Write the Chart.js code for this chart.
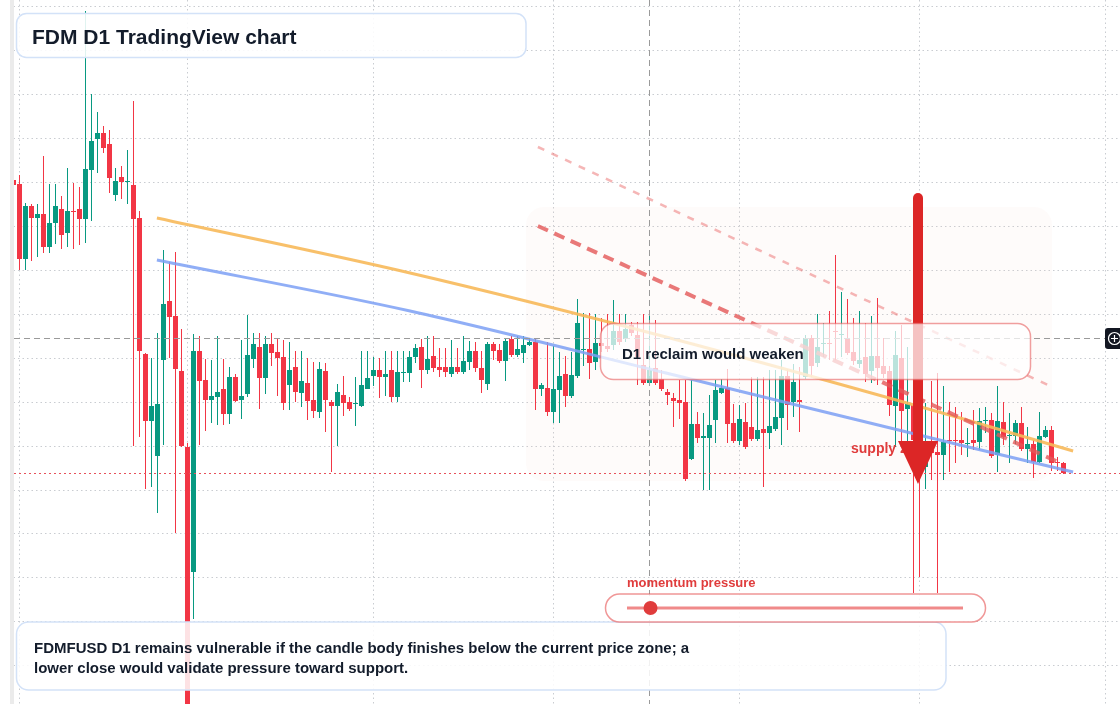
<!DOCTYPE html>
<html><head><meta charset="utf-8">
<script src="https://cdn.jsdelivr.net/npm/chart.js@4/dist/chart.umd.min.js"></script>
<style>html,body{margin:0;padding:0;background:#fff;overflow:hidden}canvas{display:block}</style>
</head><body>
<canvas id="c" width="1120" height="704"></canvas>
<script>
// FDM/USD daily candles. Day index 0 = 1 Feb; first candle is day -1.
// Prices are in units of 0.0001 USD.
const opens = [620,616,541,594,582,586,553,577,591,567,589,591,581,630,661,667,656,605,623,618,
615,582,446,379,344,440,499,484,429,353,228,449,420,400,403,411,386,423,400,406,
441,453,422,456,448,443,415,433,407,417,400,388,429,398,394,405,398,396,394,411,
424,430,423,430,403,427,427,443,453,430,444,433,433,426,433,428,438,449,432,416,
456,450,439,461,445,447,455,458,411,412,388,410,426,404,424,450,451,438,457,454,
455,469,461,475,465,435,417,432,421,408,402,400,398,341,376,362,362,380,407,412,
377,359,378,373,361,371,367,371,382,424,398,400,423,462,437,456,457,469,465,462,
448,436,443,429,444,434,429,394,442,391,395,360,333,350,348,345,360,360,360,356,
360,358,379,380,345,378,364,364,377,351,356,338,363,370,338,337];
const closes = [615,541,594,582,586,553,577,594,565,589,588,581,631,659,667,652,622,619,618,619,
581,449,379,394,396,496,483,431,354,80,449,419,400,404,408,386,423,399,404,445,
456,422,456,447,442,397,430,408,419,399,389,431,400,394,408,397,391,397,415,422,
430,423,426,403,428,428,443,452,430,441,432,430,428,433,428,439,449,432,420,456,
449,439,459,445,451,455,458,411,415,388,411,424,404,425,477,451,437,457,454,451,
469,458,471,467,443,417,430,417,411,405,399,397,321,376,362,364,375,410,412,376,
359,381,353,361,370,367,374,383,424,395,418,398,462,434,453,457,456,468,466,447,
439,440,426,444,432,426,395,445,389,396,360,345,350,347,345,358,359,359,357,357,
357,379,380,344,379,363,365,377,351,356,338,364,370,337,337,327];
const highs = [625,625,597,596,596,644,616,616,604,632,617,613,789,706,688,674,670,632,634,650,
699,589,447,442,467,550,538,548,471,357,466,464,441,440,464,441,433,426,460,485,
467,467,464,467,461,460,458,449,449,442,438,438,437,400,416,424,403,423,449,449,
443,442,449,449,449,449,449,456,461,464,464,452,452,460,452,464,459,458,449,458,
458,456,461,464,464,464,462,462,417,458,454,448,444,448,501,487,487,486,482,486,
500,486,486,478,478,486,486,480,430,411,407,420,420,420,388,387,405,420,421,431,
396,395,397,423,423,423,430,430,440,431,436,433,465,465,486,477,489,545,508,501,
482,489,477,484,502,462,434,469,475,453,420,375,397,419,427,414,398,393,388,372,
390,392,393,387,414,398,387,380,393,373,360,388,374,374,343,338];
const lows = [610,530,530,539,543,547,547,556,551,553,551,555,557,579,627,647,607,599,601,596,
354,363,311,313,287,355,442,267,353,70,181,355,369,377,375,375,376,398,381,403,
432,391,406,434,404,390,390,398,393,380,382,382,368,328,354,384,389,374,393,411,
414,402,404,398,398,418,418,437,412,426,428,423,423,423,426,426,430,428,407,410,
440,437,419,443,443,437,454,390,404,384,377,377,393,402,422,434,421,430,448,448,
450,455,458,464,415,415,414,415,409,395,373,381,319,340,357,310,310,357,406,357,
357,355,351,359,359,313,351,369,355,370,383,368,421,423,433,443,440,440,443,445,
435,432,418,417,415,422,384,353,353,353,207,223,311,320,207,320,328,337,345,343,
350,350,367,342,328,355,337,356,349,337,322,337,362,329,329,326];

// Month-start grid days (Feb .. Aug) and horizontal grid prices
const monthStartDays = [0, 28, 59, 89, 120, 150, 181];
const monthNames = ['Feb','Mar','Apr','May','Jun','Jul','Aug'];
const gridPrices = [793, 749, 705, 661, 617, 573, 530, 486, 442, 398, 354, 310, 267, 223, 179, 135];

// Overlay lines (day index, price)
const fastLineDays = [22.9, 65.1, 107.75, 156.75, 175.6];
const fastLineVals = [582, 527, 463, 382, 349];
const slowLineDays = [22.9, 65.1, 107.75, 156.75, 175.6];
const slowLineVals = [540, 489, 427, 355, 328];
const channelLowDays = [86.4, 173.1];
const channelLowVals = [574, 338];
const channelHighDays = [86.4, 172.1];
const channelHighVals = [653, 413];

// Annotations
const crossDay = 105, crossPrice = 462;
const arrowDay = 149.75, arrowTopPrice = 607, arrowHeadPrice = 359, arrowTipPrice = 316;
const titleText = 'FDM D1 TradingView chart';
const noteLines = ['FDMFUSD D1 remains vulnerable if the candle body finishes below the current price zone; a',
                   'lower close would validate pressure toward support.'];
const reclaimText = 'D1 reclaim would weaken';
const supplyText = 'supply zone';
const momentumText = 'momentum pressure';
const momentumLevel = 0.07;

const BULL = '#089981', BEAR = '#f23645';
const FONT = '"Liberation Sans", Arial, sans-serif';
const dayIndex = opens.map((_, k) => k - 1);
const candleColors = opens.map((o, k) => closes[k] >= o ? BULL : BEAR);
const lastPrice = closes[closes.length - 1];

function rrect(ctx, x, y, w, h, r) {
  ctx.beginPath();
  ctx.moveTo(x + r, y);
  ctx.arcTo(x + w, y, x + w, y + h, r);
  ctx.arcTo(x + w, y + h, x, y + h, r);
  ctx.arcTo(x, y + h, x, y, r);
  ctx.arcTo(x, y, x + w, y, r);
  ctx.closePath();
}

const overlay = {
  id: 'overlay',
  beforeDatasetsDraw(chart) {
    const ctx = chart.ctx;
    ctx.save();
    ctx.fillStyle = 'rgba(245,215,195,0.09)';
    rrect(ctx, 526, 207, 526, 274, 18);
    ctx.fill();
    ctx.restore();
  },
  afterDatasetsDraw(chart) {
    const ctx = chart.ctx, xs = chart.scales.x, ys = chart.scales.y;
    ctx.save();
    // last price line
    const ly = Math.floor(ys.getPixelForValue(lastPrice)) + 0.5;
    ctx.lineWidth = 1;
    ctx.strokeStyle = '#e8515a';
    ctx.setLineDash([2, 3]);
    ctx.beginPath(); ctx.moveTo(14, ly); ctx.lineTo(1120, ly); ctx.stroke();
    // crosshair
    ctx.strokeStyle = '#9a9a9a';
    ctx.setLineDash([6, 4]);
    const cx = Math.floor(xs.getPixelForValue(crossDay)) + 0.5;
    const cy = Math.floor(ys.getPixelForValue(crossPrice)) + 0.5;
    ctx.beginPath(); ctx.moveTo(cx, 0); ctx.lineTo(cx, 704); ctx.stroke();
    ctx.beginPath(); ctx.moveTo(14, cy); ctx.lineTo(1105, cy); ctx.stroke();
    ctx.setLineDash([]);

    // supply label
    ctx.fillStyle = '#e03c3c';
    ctx.font = 'bold 14px ' + FONT;
    ctx.fillText(supplyText, 851, 453);

    // arrow
    const ax = xs.getPixelForValue(arrowDay);
    const aTop = ys.getPixelForValue(arrowTopPrice);
    const aHead = ys.getPixelForValue(arrowHeadPrice);
    const aTip = ys.getPixelForValue(arrowTipPrice);
    ctx.strokeStyle = '#dc2626';
    ctx.lineWidth = 10;
    ctx.lineCap = 'round';
    ctx.beginPath(); ctx.moveTo(ax, aTop + 5); ctx.lineTo(ax, aHead + 4); ctx.stroke();
    ctx.lineCap = 'butt';
    ctx.fillStyle = '#dc2626';
    ctx.beginPath(); ctx.moveTo(ax - 20, aHead); ctx.lineTo(ax + 20, aHead); ctx.lineTo(ax, aTip); ctx.closePath(); ctx.fill();

    // reclaim box
    rrect(ctx, 600.5, 323.5, 430, 56, 13);
    ctx.fillStyle = 'rgba(255,255,255,0.72)'; ctx.fill();
    ctx.strokeStyle = 'rgba(230,95,95,0.6)'; ctx.lineWidth = 1.5; ctx.stroke();
    ctx.fillStyle = '#131c2b';
    ctx.font = 'bold 15px ' + FONT;
    ctx.fillText(reclaimText, 622, 359);

    // title box
    rrect(ctx, 16.5, 13.5, 509.5, 44, 10);
    ctx.fillStyle = 'rgba(255,255,255,0.88)'; ctx.fill();
    ctx.strokeStyle = '#d3e2f8'; ctx.lineWidth = 1.5; ctx.stroke();
    ctx.fillStyle = '#131c2b';
    ctx.font = 'bold 21px ' + FONT;
    ctx.fillText(titleText, 32, 43.5);

    // note box
    rrect(ctx, 16.5, 622, 929.5, 68, 12);
    ctx.fillStyle = 'rgba(255,255,255,0.86)'; ctx.fill();
    ctx.strokeStyle = '#d3e2f8'; ctx.lineWidth = 1.5; ctx.stroke();
    ctx.fillStyle = '#131c2b';
    ctx.font = 'bold 15px ' + FONT;
    ctx.fillText(noteLines[0], 34, 653);
    ctx.fillText(noteLines[1], 34, 673);

    // momentum pill
    ctx.fillStyle = '#e03c3c';
    ctx.font = 'bold 13px ' + FONT;
    ctx.fillText(momentumText, 627, 587);
    rrect(ctx, 605.5, 594, 380, 28, 14);
    ctx.fillStyle = 'rgba(255,255,255,0.85)'; ctx.fill();
    ctx.strokeStyle = 'rgba(232,95,95,0.65)'; ctx.lineWidth = 1.5; ctx.stroke();
    const t0 = 627, t1 = 963;
    ctx.strokeStyle = '#f08a8a'; ctx.lineWidth = 3;
    ctx.beginPath(); ctx.moveTo(t0, 608); ctx.lineTo(t1, 608); ctx.stroke();
    ctx.fillStyle = '#e03c3c';
    ctx.beginPath(); ctx.arc(t0 + (t1 - t0) * momentumLevel, 608, 7, 0, Math.PI * 2); ctx.fill();

    // left strip
    ctx.fillStyle = '#ffffff'; ctx.fillRect(0, 0, 10, 704);
    ctx.fillStyle = '#ebebeb'; ctx.fillRect(10, 0, 4, 704);

    // crosshair button
    rrect(ctx, 1105, 328, 20, 21, 3);
    ctx.fillStyle = '#131722'; ctx.fill();
    ctx.strokeStyle = '#ffffff'; ctx.lineWidth = 1.2;
    ctx.beginPath(); ctx.arc(1114.5, 338.5, 6, 0, Math.PI * 2); ctx.stroke();
    ctx.beginPath(); ctx.moveTo(1111, 338.5); ctx.lineTo(1118, 338.5);
    ctx.moveTo(1114.5, 335); ctx.lineTo(1114.5, 342); ctx.stroke();
    ctx.restore();
  }
};

const xy = (xsArr, ysArr) => xsArr.map((v, k) => ({x: v, y: ysArr[k]}));
const gridStyle = {color: '#c9ccd1', lineWidth: 1, drawTicks: false, offset: false};

new Chart(document.getElementById('c'), {
  type: 'bar',
  data: {
    datasets: [
      {type: 'line', label: 'channel high', data: xy(channelHighDays, channelHighVals), borderColor: 'rgba(236,110,110,0.5)', borderWidth: 2.5, borderDash: [7, 8], pointRadius: 0, order: 0},
      {type: 'line', label: 'channel low', data: xy(channelLowDays, channelLowVals), borderColor: 'rgba(228,88,88,0.8)', borderWidth: 4, borderDash: [11, 7], pointRadius: 0, order: 1},
      {type: 'line', label: 'fast', data: xy(fastLineDays, fastLineVals), borderColor: 'rgba(247,185,90,0.9)', borderWidth: 3, pointRadius: 0, cubicInterpolationMode: 'monotone', order: 2},
      {type: 'line', label: 'slow', data: xy(slowLineDays, slowLineVals), borderColor: 'rgba(125,160,245,0.85)', borderWidth: 3, pointRadius: 0, cubicInterpolationMode: 'monotone', order: 3},
      {label: 'bodies', data: dayIndex.map((d, k) => ({x: d, y: [opens[k], closes[k]]})), backgroundColor: candleColors, barThickness: 5, minBarLength: 1, grouped: false, inflateAmount: 0, borderWidth: 0, order: 10},
      {label: 'wicks', data: dayIndex.map((d, k) => ({x: d, y: [lows[k], highs[k]]})), backgroundColor: candleColors, barThickness: 1, grouped: false, inflateAmount: 0, borderWidth: 0, order: 11}
    ]
  },
  options: {
    responsive: false,
    animation: false,
    devicePixelRatio: 1,
    events: [],
    layout: {padding: 0, autoPadding: false},
    plugins: {legend: {display: false}, tooltip: {enabled: false}},
    scales: {
      x: {type: 'linear', min: -3.25, max: 183.4167, offset: false,
          ticks: {display: false}, grid: gridStyle, border: {display: false, dash: [1.5, 3]},
          afterBuildTicks: a => { a.ticks = monthStartDays.map((v, k) => ({value: v, label: monthNames[k]})); }},
      y: {type: 'linear', min: 96, max: 800,
          ticks: {display: false}, grid: gridStyle, border: {display: false, dash: [1.5, 3]},
          afterBuildTicks: a => { a.ticks = gridPrices.map(v => ({value: v})); }}
    }
  },
  plugins: [overlay]
});
</script>
</body></html>
